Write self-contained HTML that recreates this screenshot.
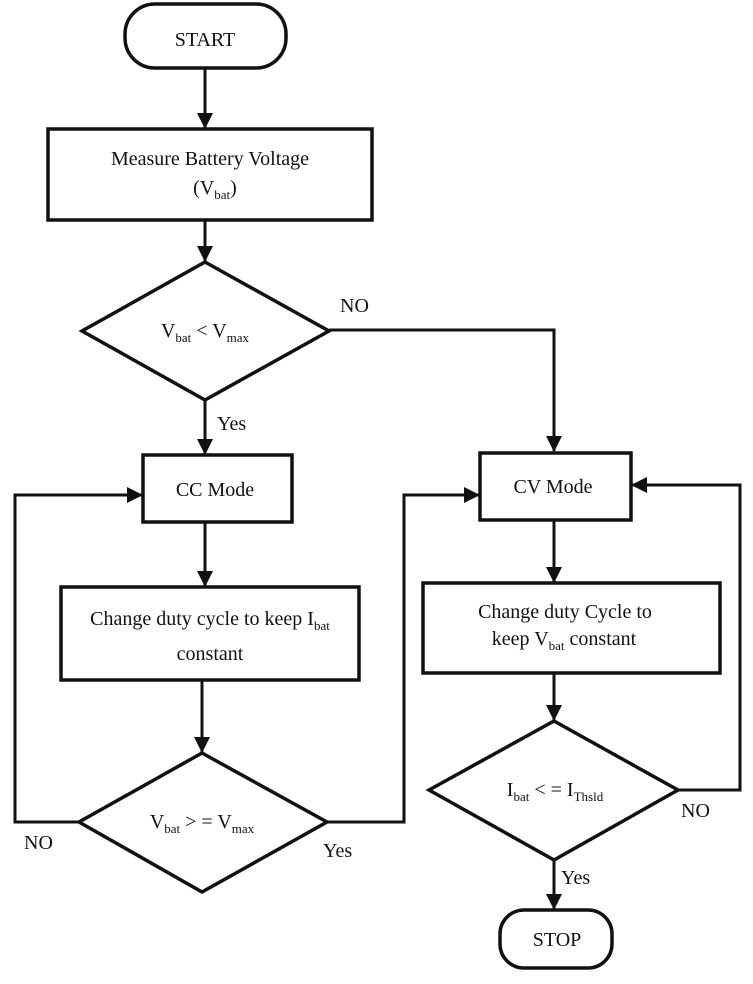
<!DOCTYPE html>
<html><head><style>body{margin:0;background:#fff}svg{display:block}text{font-family:"Liberation Serif",serif;fill:#111}</style></head>
<body>
<svg width="753" height="984" viewBox="0 0 753 984" xmlns="http://www.w3.org/2000/svg">
<defs><marker id="a" markerWidth="16" markerHeight="16" refX="15" refY="8" orient="auto" markerUnits="userSpaceOnUse"><path d="M0,0 L16,8 L0,16 z" fill="#111"/></marker></defs>
<g stroke="#111" stroke-width="3.5" fill="none">
<rect x="125" y="4" width="161" height="64" rx="30"/>
<rect x="48" y="129" width="324" height="91"/>
<polygon points="205,262 329,331 205,400 82,331"/>
<rect x="143" y="455" width="149" height="67"/>
<rect x="61" y="587" width="298" height="93"/>
<polygon points="202,753 327,822 202,892 79,822"/>
<rect x="480" y="453" width="151" height="67"/>
<rect x="423" y="583" width="297" height="90"/>
<polygon points="554,721 678,790 554,860 429,790"/>
<rect x="500" y="910" width="112" height="58" rx="24"/>
</g>
<g stroke="#111" stroke-width="3" fill="none" marker-end="url(#a)">
<path d="M205,68 V128"/>
<path d="M205,220 V261"/>
<path d="M205,400 V454"/>
<path d="M329,330 H554 V451"/>
<path d="M205,522 V586"/>
<path d="M202,680 V752"/>
<path d="M79,822 H15 V495 H142"/>
<path d="M327,822 H404 V495 H479"/>
<path d="M554,520 V582"/>
<path d="M554,673 V720"/>
<path d="M678,790 H740 V485 H632"/>
<path d="M554,860 V909"/>
</g>
<g font-size="20" text-anchor="middle">
<text x="205" y="46">START</text>
<text x="210" y="165">Measure Battery Voltage</text>
<text x="215" y="194">(V<tspan font-size="13" dy="5">bat</tspan><tspan dy="-5">)</tspan></text>
<text x="205" y="337">V<tspan font-size="13" dy="5">bat</tspan><tspan dy="-5"> &lt; V</tspan><tspan font-size="13" dy="5">max</tspan></text>
<text x="215" y="496">CC Mode</text>
<text x="210" y="625">Change duty cycle to keep I<tspan font-size="13" dy="5">bat</tspan></text>
<text x="210" y="660">constant</text>
<text x="202" y="828">V<tspan font-size="13" dy="5">bat</tspan><tspan dy="-5"> &gt; = V</tspan><tspan font-size="13" dy="5">max</tspan></text>
<text x="553" y="493">CV Mode</text>
<text x="565" y="618">Change duty Cycle to</text>
<text x="564" y="645">keep V<tspan font-size="13" dy="5">bat</tspan><tspan dy="-5"> constant</tspan></text>
<text x="555" y="796">I<tspan font-size="13" dy="5">bat</tspan><tspan dy="-5"> &lt; = I</tspan><tspan font-size="13" dy="5">Thsld</tspan></text>
<text x="557" y="946">STOP</text>
</g>
<g font-size="20">
<text x="340" y="312">NO</text>
<text x="217" y="430">Yes</text>
<text x="24" y="849">NO</text>
<text x="323" y="857">Yes</text>
<text x="681" y="817">NO</text>
<text x="561" y="884">Yes</text>
</g>
</svg>
</body></html>
